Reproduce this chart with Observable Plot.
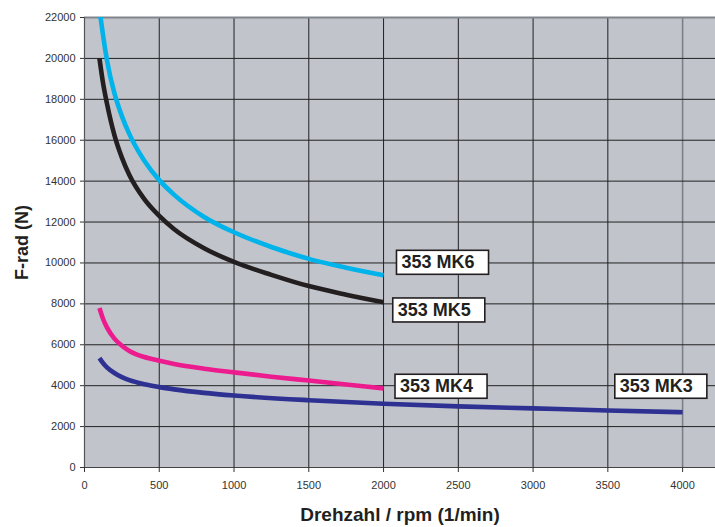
<!DOCTYPE html>
<html><head><meta charset="utf-8">
<script src="https://cdn.jsdelivr.net/npm/d3@7"></script>
<script src="https://cdn.jsdelivr.net/npm/@observablehq/plot@0.6"></script>
<style>body{margin:0;background:#fff}</style>
</head><body><div id="chart"></div>
<script>
// ---- data ----
const rpmMK6 = [100, 150, 200, 250, 300, 400, 500, 600, 800, 1000, 1250, 1500, 1750, 2000];
const fMK6   = [22400, 19920, 18300, 17180, 16300, 15000, 14050, 13330, 12250, 11500, 10780, 10200, 9770, 9400];
const rpmMK5 = [100, 125, 150, 200, 250, 300, 400, 500, 600, 800, 1000, 1250, 1500, 1750, 2000];
const fMK5   = [20000, 18750, 17800, 16250, 15150, 14300, 13120, 12300, 11650, 10720, 10050, 9420, 8870, 8450, 8080];
const rpmMK4 = [100, 125, 150, 200, 250, 300, 400, 500, 600, 800, 1000, 1250, 1500, 1750, 2000];
const fMK4   = [7800, 7250, 6850, 6300, 5950, 5700, 5400, 5220, 5060, 4830, 4650, 4440, 4250, 4060, 3870];
const rpmMK3 = [100, 125, 150, 200, 250, 300, 400, 500, 600, 800, 1000, 1500, 2000, 2500, 3000, 3500, 4000];
const fMK3   = [5350, 5100, 4900, 4620, 4420, 4270, 4070, 3930, 3820, 3650, 3520, 3290, 3120, 2990, 2890, 2790, 2700];

const seriesNames  = ["353 MK6", "353 MK5", "353 MK4", "353 MK3"];
const seriesColors = ["#00b3ea", "#231f20", "#ec1c8e", "#2e3192"];

const labelNames = ["353 MK6", "353 MK5", "353 MK4", "353 MK3"];
const labelRpm   = [2120, 2095, 2110, 3580];
const labelF     = [10020, 7690, 3960, 3960];

const xTicks = [0, 500, 1000, 1500, 2000, 2500, 3000, 3500, 4000];
const yTicks = [0, 2000, 4000, 6000, 8000, 10000, 12000, 14000, 16000, 18000, 20000, 22000];
const xLabel = "Drehzahl / rpm (1/min)";
const yLabel = "F-rad (N)";

// ---- build tables ----
const rpmAll = [rpmMK6, rpmMK5, rpmMK4, rpmMK3];
const fAll = [fMK6, fMK5, fMK4, fMK3];
const lineData = seriesNames.flatMap((name, s) =>
  rpmAll[s].map((r, i) => ({series: name, rpm: r, f: fAll[s][i]})));
const labels = labelNames.map((t, i) => ({text: t, rpm: labelRpm[i], f: labelF[i]}));

const font = "Arial, 'Liberation Sans', Helvetica, sans-serif";

const chart = Plot.plot({
  width: 715, height: 527,
  marginLeft: 84, marginRight: 0, marginTop: 17, marginBottom: 60,
  style: {fontFamily: font, fontSize: "11px", color: "#333", background: "#fff", overflow: "visible"},
  x: {domain: [0, 4220]},
  y: {domain: [0, 22000]},
  color: {domain: seriesNames, range: seriesColors},
  marks: [
    Plot.frame({fill: "#c1c4cb", stroke: null}),
    Plot.gridX(xTicks.filter(t => t > 0 && t < 4000), {stroke: "#222", strokeOpacity: 1, strokeWidth: 1}),
    Plot.ruleX([4000], {stroke: "#7b8087", strokeWidth: 1.6}),
    Plot.gridY(yTicks.filter(t => t > 0 && t < 22000), {stroke: "#222", strokeOpacity: 1, strokeWidth: 1}),
    Plot.ruleY([22000], {stroke: "#80868c", strokeWidth: 2}),
    Plot.ruleY([0], {stroke: "#444", strokeWidth: 1.2}),
    Plot.ruleX([0], {stroke: "#555", strokeWidth: 1.2}),
    Plot.axisX({ticks: xTicks, tickSize: 5, tickPadding: 9, label: null, tickFormat: d => String(d)}),
    Plot.axisY({ticks: yTicks, tickSize: 4, tickPadding: 5, label: null, tickFormat: d => String(d)}),
    Plot.line(lineData, {x: "rpm", y: "f", z: "series", stroke: "series", strokeWidth: 4.6,
      curve: "monotone-x", clip: true, strokeLinecap: "butt"}),
    Plot.text(labels, {x: "rpm", y: "f", text: "text", textAnchor: "start", lineAnchor: "middle",
      fontWeight: "bold", fontSize: 18, fill: "#231f20"}),
    Plot.text([xLabel], {text: d => d, frameAnchor: "bottom", dy: 47, textAnchor: "middle", lineAnchor: "middle",
      fontWeight: "bold", fontSize: 19, fill: "#231f20"}),
    Plot.text([yLabel], {text: d => d, frameAnchor: "left", dx: -62, rotate: -90, textAnchor: "middle",
      lineAnchor: "middle", fontWeight: "bold", fontSize: 18, fill: "#231f20"})
  ]
});
document.getElementById("chart").appendChild(chart);

// white boxes behind the series labels
d3.select(chart).selectAll("text").each(function() {
  const t = this.textContent;
  if (!labelNames.includes(t)) return;
  const b = this.getBBox();
  const g = this.parentNode;
  const rect = document.createElementNS("http://www.w3.org/2000/svg", "rect");
  rect.setAttribute("x", b.x - 5);
  rect.setAttribute("y", b.y + b.height / 2 - 12);
  rect.setAttribute("width", b.width + 19);
  rect.setAttribute("height", 24);
  rect.setAttribute("fill", "#fff");
  rect.setAttribute("stroke", "#231f20");
  rect.setAttribute("stroke-width", 1.6);
  const tr = this.getAttribute("transform");
  if (tr) rect.setAttribute("transform", tr);
  g.insertBefore(rect, this);
});
</script>
</body></html>
